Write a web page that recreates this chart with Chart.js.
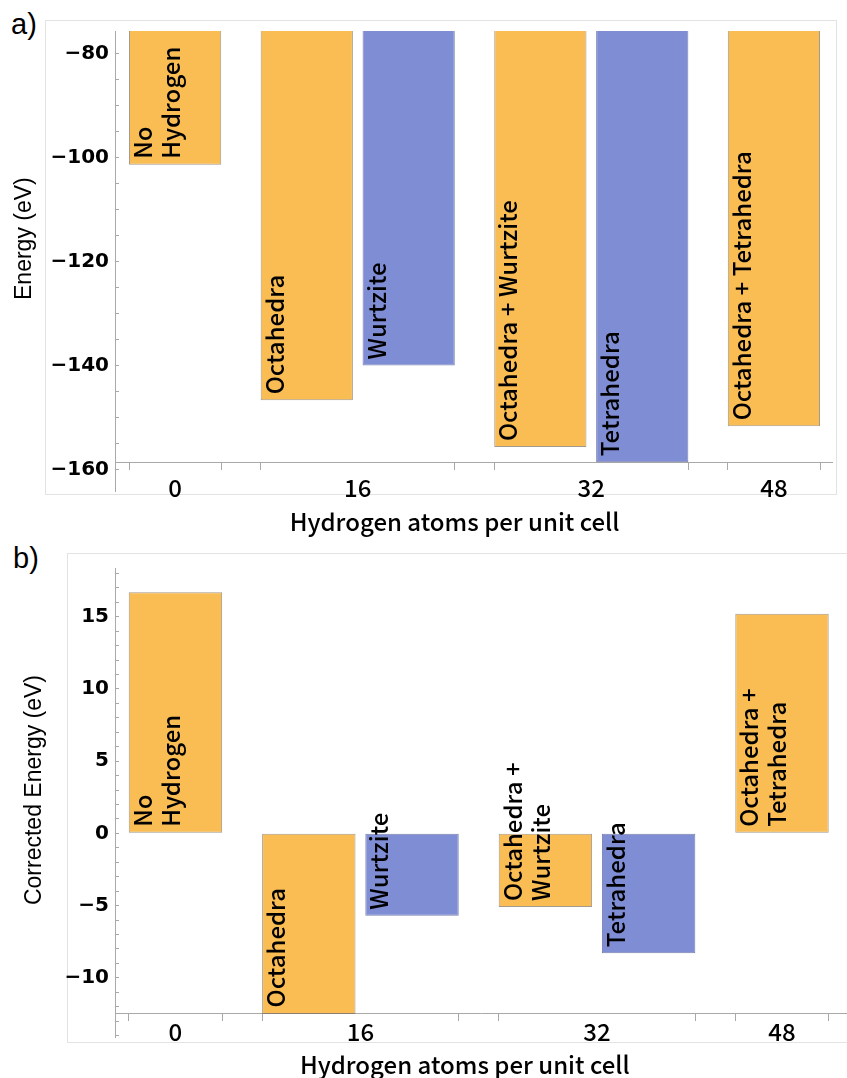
<!DOCTYPE html>
<html lang="en">
<head>
<meta charset="utf-8">
<title>Hydrogen site energies</title>
<script src="https://cdn.jsdelivr.net/npm/chart.js@4.4.1/dist/chart.umd.min.js"></script>
<style>
  html, body { margin: 0; padding: 0; background: #fff; }
  #page { position: relative; width: 847px; height: 1078px; overflow: hidden; }
  .frame { position: absolute; box-sizing: border-box; border: 1px solid #e3e3e3; }
  .tag { position: absolute; font: 29px/1 "Liberation Sans", Arial, sans-serif; color: #000; }
  .panel { position: absolute; left: 0; width: 847px; height: 600px; }
</style>
</head>
<body>
<div id="page">
  <div class="frame" style="left:45px; top:20px; width:792px; height:475px;"></div>
  <div class="frame" style="left:67px; top:553px; width:820px; height:490px;"></div>
  <div class="tag" style="left:11px; top:10px;">a)</div>
  <div class="tag" style="left:13px; top:544px;">b)</div>
  <div class="panel" style="top:0;"><canvas id="panelA"></canvas></div>
  <div class="panel" style="top:540px;"><canvas id="panelB"></canvas></div>
</div>
<script>
// Structures, one bar each, grouped by hydrogen count
const structures = ['No Hydrogen', 'Octahedra', 'Wurtzite', 'Octahedra + Wurtzite', 'Tetrahedra', 'Octahedra + Tetrahedra'];
const hydrogenPerCell = [0, 16, 16, 32, 32, 48];
const siteFamily = ['none', 'octahedral', 'tetrahedral', 'octahedral', 'tetrahedral', 'octahedral'];

// Energies in eV
const totalEnergy = [-101.3, -146.6, -139.9, -155.6, -158.5, -151.6];
const correctedEnergy = [16.7, -12.5, -5.7, -5.1, -8.3, 15.2];

// Axis tick labels
const xTickLabels = ['0', '16', '32', '48'];
const yLabelledA = [-160, -140, -120, -100, -80];
const yLabelledB = [-10, -5, 0, 5, 10, 15];

// In-bar captions (line breaks per panel)
const captionsA = [['No', 'Hydrogen'], ['Octahedra'], ['Wurtzite'], ['Octahedra + Wurtzite'], ['Tetrahedra'], ['Octahedra + Tetrahedra']];
const captionsB = [['No', 'Hydrogen'], ['Octahedra'], ['Wurtzite'], ['Octahedra +', 'Wurtzite'], ['Tetrahedra'], ['Octahedra +', 'Tetrahedra']];

// ---- styling ----
const FILL = { none: '#f9bd54', octahedral: '#f9bd54', tetrahedral: '#7f8dd5' };
const EDGE = { none: 'rgba(125,110,90,0.7)', octahedral: 'rgba(125,110,90,0.7)', tetrahedral: 'rgba(85,95,150,0.8)' };
const AXIS_GREY = '#a9a9a9';
const CJK = '"Noto Sans CJK JP Medium", "Noto Sans CJK JP", "Noto Sans", sans-serif';
const GAP_IN = 0.105;   // space between bars of one group, in bar widths
const GAP_OUT = 0.428;  // space between groups, in bar widths

function signed(v) { return v < 0 ? '\u2212' + Math.abs(v) : String(v); }
function steps(a, b, step) {
  const out = [];
  for (let v = a; v <= b + 1e-9; v += step) out.push(Math.round(v * 1000) / 1000);
  return out;
}
// axis titles sit a little off the middle of their axis; pad with spaces on one side
function offCentre(text, lead, trail) { return ' '.repeat(lead) + text + ' '.repeat(trail); }

// Lay bars side by side: consecutive bars with equal hydrogen count form a group
function barLayout(keys) {
  const centers = [], groups = [];
  let cursor = 0;
  keys.forEach((k, i) => {
    const same = i > 0 && k === keys[i - 1];
    if (i > 0) cursor += same ? GAP_IN : GAP_OUT;
    if (!same) groups.push({ start: cursor, end: cursor + 1 });
    else groups[groups.length - 1].end = cursor + 1;
    centers.push(cursor + 0.5);
    cursor += 1;
  });
  groups.forEach(g => { g.mid = (g.start + g.end) / 2; });
  return { centers, groups, span: cursor };
}

// Rotated captions, starting at the lower end of each bar and reading upwards
function barCaptions(lines, opt) {
  return {
    id: 'barCaptions',
    afterDatasetsDraw(chart) {
      const { ctx, chartArea } = chart;
      const floor = Math.min(chartArea.bottom, chart.scales.y.getPixelForValue(opt.axisAt));
      ctx.save();
      ctx.font = opt.font;
      ctx.fillStyle = '#000';
      ctx.textAlign = 'left';
      ctx.textBaseline = 'top';
      chart.getDatasetMeta(0).data.forEach((bar, i) => {
        const p = bar.getProps(['x', 'y', 'base', 'width'], true);
        const low = Math.min(Math.max(p.y, p.base), floor);
        ctx.save();
        ctx.translate(p.x - p.width / 2 + opt.inset, low - opt.lift);
        ctx.rotate(-Math.PI / 2);
        lines[i].forEach((t, k) => ctx.fillText(t, 0, k * opt.lineHeight));
        ctx.restore();
      });
      ctx.restore();
    }
  };
}

function panel(id, cfg) {
  const lay = barLayout(hydrogenPerCell);
  const edges = lay.groups.flatMap(g => [g.start, g.end]);
  const xCommon = {
    type: 'linear', axis: 'x', position: { y: cfg.axisAt },
    min: -cfg.xLead, max: lay.span + cfg.xTrail, bounds: 'data', offset: false
  };
  return new Chart(document.getElementById(id), {
    type: 'bar',
    data: {
      datasets: [{
        data: cfg.values.map((v, i) => ({ x: lay.centers[i], y: v })),
        backgroundColor: siteFamily.map(f => FILL[f]),
        borderColor: siteFamily.map(f => EDGE[f]),
        borderWidth: 1,
        borderSkipped: false,
        clip: 0,
        categoryPercentage: 1,
        barPercentage: 1 / (1 + GAP_IN)
      }]
    },
    options: {
      responsive: true,
      maintainAspectRatio: false,
      animation: false,
      layout: { padding: { top: cfg.top, right: cfg.right, bottom: cfg.bottom, left: 0 } },
      plugins: { legend: { display: false }, tooltip: { enabled: false } },
      scales: {
        x: Object.assign({}, xCommon, {
          afterBuildTicks: s => { s.ticks = lay.groups.map(g => ({ value: g.mid })); },
          afterFit: s => { s.height = cfg.bottom; },
          ticks: {
            autoSkip: false, maxRotation: 0, padding: cfg.xTickPad, color: '#000',
            font: { family: CJK, size: 24, weight: 500 },
            callback: (v, i) => xTickLabels[i]
          },
          grid: { offset: false, drawOnChartArea: false, drawTicks: true, tickLength: 8, tickColor: 'rgba(0,0,0,0)' },
          border: { display: true, color: AXIS_GREY, width: 1 },
          title: {
            display: true, text: offCentre('Hydrogen atoms per unit cell', 0, cfg.xTitleTrail), color: '#000',
            font: { family: CJK, size: 24, weight: 500 }, padding: { top: 0, bottom: cfg.xTitlePad }
          }
        }),
        xEdges: Object.assign({}, xCommon, {
          afterBuildTicks: s => { s.ticks = edges.map(v => ({ value: v })); },
          afterFit: s => { s.height = 0; },
          ticks: { autoSkip: false, maxRotation: 0, callback: () => '' },
          grid: { offset: false, drawOnChartArea: false, drawTicks: true, tickLength: 8, tickColor: AXIS_GREY, tickWidth: 1 },
          border: { display: false }
        }),
        y: {
          type: 'linear', position: 'left', min: cfg.yMin, max: cfg.yMax, bounds: 'data',
          afterBuildTicks: s => { s.ticks = cfg.yMinor.map(v => ({ value: v })); },
          afterFit: s => { s.width = 115; },
          ticks: {
            autoSkip: false, padding: 10, color: '#000',
            font: { family: '"DejaVu Sans", sans-serif', size: 20, weight: 'bold' },
            callback: v => (cfg.yMajor.includes(v) ? signed(v) : '')
          },
          grid: { drawOnChartArea: false, drawTicks: true, tickLength: -4, tickColor: AXIS_GREY },
          border: { display: true, color: AXIS_GREY, width: 1 },
          title: {
            display: true, text: offCentre(cfg.yTitle, cfg.yTitleLead, 0), color: '#000',
            font: { family: '"Liberation Sans", Arial, sans-serif', size: 23 },
            padding: { top: cfg.yTitlePad, bottom: 0 }
          }
        }
      }
    },
    plugins: [barCaptions(cfg.captions, {
      axisAt: cfg.axisAt, font: '500 24px ' + CJK, inset: 2, lift: 6, lineHeight: 28
    })]
  });
}

panel('panelA', {
  values: totalEnergy, captions: captionsA,
  yTitle: 'Energy (eV)', yMin: -164.04, yMax: -75.58,
  yMinor: steps(-160, -80, 5), yMajor: yLabelledA,
  axisAt: -158.5, top: 31, right: 15, bottom: 109,
  xLead: 0.152, xTrail: 0.13, xTickPad: 3.6, xTitlePad: 34.6, xTitleTrail: 7,
  yTitlePad: 11.2, yTitleLead: 7
});

panel('panelB', {
  values: correctedEnergy, captions: captionsB,
  yTitle: 'Corrected Energy (eV)', yMin: -14.12, yMax: 18.35,
  yMinor: steps(-14, 18, 1), yMajor: yLabelledB,
  axisAt: -12.47, top: 28.3, right: 0, bottom: 102.7,
  xLead: 0.147, xTrail: 0.196, xTickPad: -4, xTitlePad: 36.5, xTitleTrail: 6,
  yTitlePad: 21.2, yTitleLead: 4
});
</script>
</body>
</html>
